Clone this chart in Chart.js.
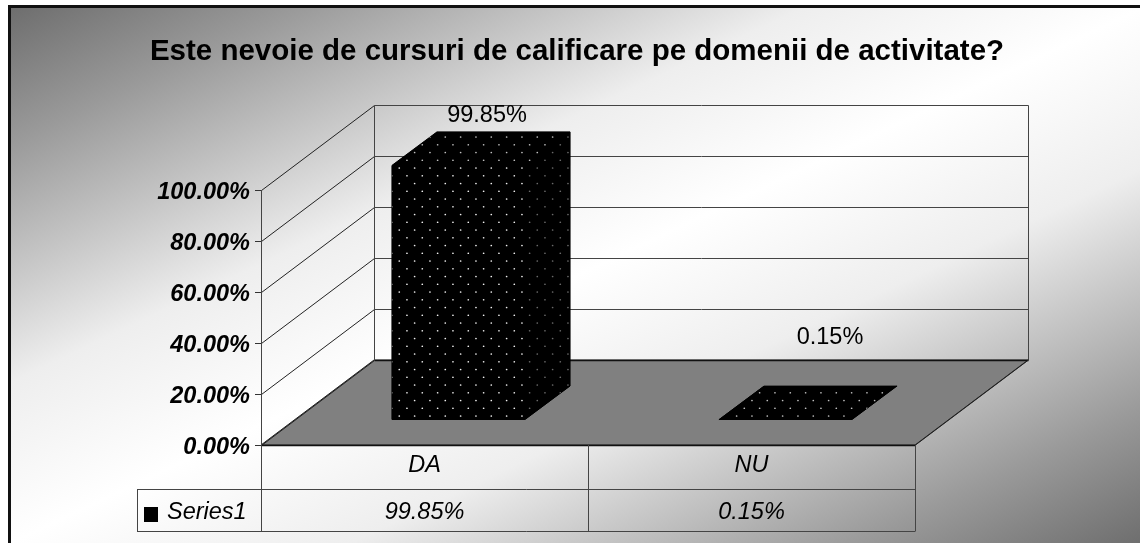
<!DOCTYPE html>
<html>
<head>
<meta charset="utf-8">
<style>
html,body{margin:0;padding:0;background:#fff;overflow:hidden;width:1140px;height:543px}
#box{position:absolute;left:8px;top:5px;width:1132px;height:535px;border-left:3px solid #111;border-top:3px solid #111;
background:linear-gradient(to bottom right,#6e6e6e 0%,#9a9a9a 12.7%,#c8c8c8 25%,#eeeeee 35%,#ffffff 50%,#eeeeee 65%,#c8c8c8 75%,#9a9a9a 87.3%,#6e6e6e 100%)}
canvas{display:block}
</style>
<script src="https://cdn.jsdelivr.net/npm/chart.js@4"></script>
</head>
<body>
<div id="box"><canvas id="c" width="1132" height="535"></canvas></div>
<script>
const titleText = 'Este nevoie de cursuri de calificare pe domenii de activitate?';
const categories = ['DA', 'NU'];
const seriesName = 'Series1';
const seriesValues = [99.85, 0.15];
const yTickStep = 20;
const yMax = 100;

const FONT = '"Liberation Sans", Arial, sans-serif';
const FS = 23.5;
const WALL = {dx: 113, dy: -85};   // floor depth
const BAR_SHIFT = {dx: 34, dy: -25}; // bars stand part-way into the floor
const BAR_DEPTH = {dx: 45, dy: -33.5};
const LABEL_SHIFT = [{dx: 28.5, dy: -50}, {dx: 44.5, dy: -82}];
const fmt = v => v.toFixed(2) + '%';

function dots(color) {
  const t = document.createElement('canvas');
  t.width = 46; t.height = 31;
  const g = t.getContext('2d');
  g.fillStyle = '#000'; g.fillRect(0, 0, 46, 31);
  g.fillStyle = color;
  for (let r = 0; r < 4; r++) for (let c = 0; c < 3; c++) {
    const x = (1.63 + (r % 2 ? 7.67 : 0) + 15.33 * c) % 46;
    const y = (14.5 + 7.75 * r) % 31;
    g.beginPath(); g.arc(x, y, 0.85, 0, Math.PI * 2); g.fill();
  }
  return g.canvas;
}
const ctx0 = document.getElementById('c').getContext('2d');
const frontFill = ctx0.createPattern(dots('#f0f0f0'), 'repeat');
const topFill = ctx0.createPattern(dots('#c0c0c0'), 'repeat');
const sideFill = ctx0.createPattern(dots('#6a6a6a'), 'repeat');

function poly(c, pts, fill, stroke, lw) {
  c.beginPath();
  pts.forEach((p, i) => i ? c.lineTo(p[0], p[1]) : c.moveTo(p[0], p[1]));
  c.closePath();
  if (fill) { c.fillStyle = fill; c.fill(); }
  if (stroke) { c.strokeStyle = stroke; c.lineWidth = lw || 1; c.stroke(); }
}
function seg(c, x1, y1, x2, y2, col, lw) {
  c.beginPath(); c.moveTo(x1, y1); c.lineTo(x2, y2);
  c.strokeStyle = col; c.lineWidth = lw || 1; c.stroke();
}

const scene3d = {
  id: 'scene3d',
  afterLayout(chart) {
    // centre the title over the whole canvas, not just the padded area
    chart.titleBlock.left = 0;
    chart.titleBlock.right = chart.width;
  },
  beforeDatasetsDraw(chart) {
    const c = chart.ctx, {left: L, right: R, bottom: B} = chart.chartArea;
    const y = chart.scales.y, line = '#444';
    c.save();
    // floor
    poly(c, [[L, B], [R, B], [R + WALL.dx, B + WALL.dy], [L + WALL.dx, B + WALL.dy]], '#808080', '#222', 1);
    // wall grid lines from the value scale
    y.ticks.forEach(t => {
      const p = Math.round(y.getPixelForValue(t.value)) + 0.5;
      seg(c, L + .5, p, L + WALL.dx + .5, p + WALL.dy, '#222');
      seg(c, L + WALL.dx + .5, p + WALL.dy, R + WALL.dx + .5, p + WALL.dy, t.value === 0 ? '#111' : line, t.value === 0 ? 1.5 : 1);
    });
    const top = Math.round(y.getPixelForValue(yMax)) + WALL.dy + .5, bot = Math.round(y.getPixelForValue(0)) + WALL.dy + .5;
    seg(c, L + WALL.dx + .5, top, L + WALL.dx + .5, bot, line);
    seg(c, R + WALL.dx + .5, top, R + WALL.dx + .5, bot, line);
    seg(c, L, B + .5, R, B + .5, '#111', 1.5);
    seg(c, R + .5, B, R + WALL.dx + .5, B + WALL.dy, '#222');

    // data table
    const rowMid = B + 44, rowBot = B + 86;
    const catX = chart.scales.x;
    const sep = (catX.getPixelForValue(0) + catX.getPixelForValue(1)) / 2;
    const keyL = L - 124;
    seg(c, L + .5, Math.round(y.getPixelForValue(yMax)), L + .5, rowBot, line);
    seg(c, R + .5, B, R + .5, rowBot, line);
    seg(c, Math.round(sep) + .5, B, Math.round(sep) + .5, rowBot, line);
    seg(c, keyL, rowMid + .5, R + .5, rowMid + .5, line);
    seg(c, keyL, rowBot + .5, R + .5, rowBot + .5, line);
    seg(c, keyL + .5, rowMid, keyL + .5, rowBot, line);
    c.fillStyle = '#000';
    c.font = 'italic ' + FS + 'px ' + FONT;
    c.textBaseline = 'middle';
    c.textAlign = 'center';
    seriesValues.forEach((v, i) => c.fillText(fmt(v), catX.getPixelForValue(i), rowMid + 23));
    c.textAlign = 'left';
    c.fillText(seriesName, keyL + 30, rowMid + 23);
    c.fillStyle = '#000';
    c.fillRect(keyL + 7, rowMid + 18, 14, 15);
    c.restore();

    // bars: shifted into the depth, with top and side faces
    c.save();
    c.translate(BAR_SHIFT.dx, BAR_SHIFT.dy);
    chart.getDatasetMeta(0).data.forEach(b => {
      const x0 = b.x - b.width / 2, x1 = b.x + b.width / 2, d = BAR_DEPTH;
      // solid silhouette first so no seam shows between the faces
      poly(c, [[x0, b.base], [x1, b.base], [x1 + d.dx, b.base + d.dy], [x1 + d.dx, b.y + d.dy], [x0 + d.dx, b.y + d.dy], [x0, b.y]], '#000', '#000', 1);
      poly(c, [[x1, b.base], [x1 + d.dx, b.base + d.dy], [x1 + d.dx, b.y + d.dy], [x1, b.y]], sideFill);
      poly(c, [[x0, b.y], [x1, b.y], [x1 + d.dx, b.y + d.dy], [x0 + d.dx, b.y + d.dy]], topFill);
    });
  },
  afterDatasetsDraw(chart) {
    const c = chart.ctx;
    c.restore();
    c.save();
    c.fillStyle = '#000';
    c.font = FS + 'px ' + FONT;
    c.textAlign = 'center';
    c.textBaseline = 'middle';
    chart.getDatasetMeta(0).data.forEach((b, i) => {
      c.fillText(fmt(seriesValues[i]), b.x + BAR_SHIFT.dx + LABEL_SHIFT[i].dx, b.y + BAR_SHIFT.dy + LABEL_SHIFT[i].dy);
    });
    c.restore();
  }
};

new Chart(ctx0, {
  type: 'bar',
  data: {
    labels: categories,
    datasets: [{
      label: seriesName,
      data: seriesValues,
      backgroundColor: frontFill,
      borderWidth: 0,
      categoryPercentage: 1,
      barPercentage: 0.407
    }]
  },
  options: {
    responsive: false,
    animation: false,
    events: [],
    layout: {padding: {left: 0, right: 228, top: 0, bottom: 0}},
    plugins: {
      legend: {display: false},
      tooltip: {enabled: false},
      title: {
        display: true,
        text: titleText,
        color: '#000',
        font: {family: FONT, size: 29.5, weight: 'bold', lineHeight: 1},
        padding: {top: 29.5, bottom: 123}
      }
    },
    scales: {
      x: {
        afterFit(s) { s.height = 98; },
        grid: {display: false, drawTicks: false},
        border: {display: false},
        ticks: {color: '#000', font: {family: FONT, size: FS, style: 'italic'}, padding: 6, maxRotation: 0}
      },
      y: {
        min: 0, max: yMax,
        afterFit(s) { s.width = 250; },
        grid: {drawOnChartArea: false, drawTicks: true, tickLength: 6, color: '#333'},
        border: {display: false},
        ticks: {
          stepSize: yTickStep, padding: 5, labelOffset: 3, color: '#000',
          font: {family: FONT, size: FS, style: 'italic', weight: 'bold'},
          callback: v => fmt(v)
        }
      }
    }
  },
  plugins: [scene3d]
});
</script>
</body>
</html>
